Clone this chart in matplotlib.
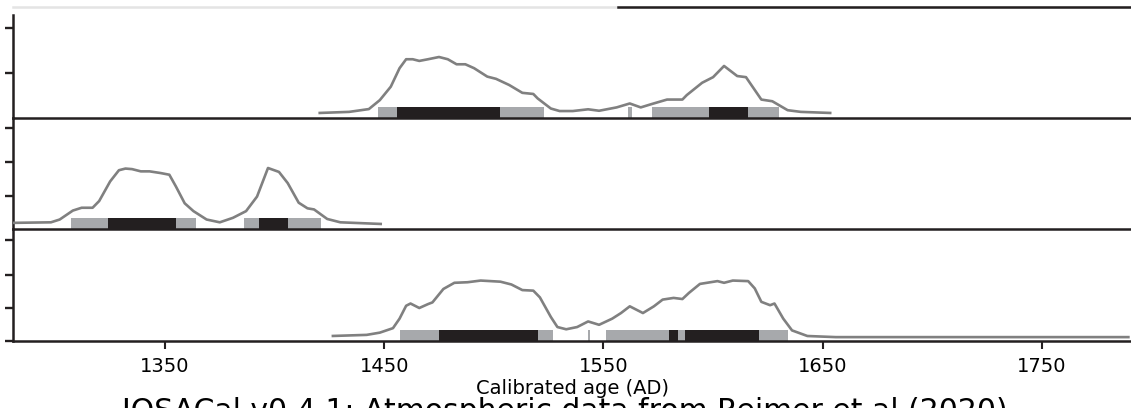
import matplotlib
matplotlib.use("Agg")
import matplotlib.pyplot as plt

# Calibrated probability curves (relative probability, peak = 1)
top_years = [1420, 1434, 1443, 1448, 1453, 1457, 1460, 1463, 1466, 1470, 1475, 1479,
             1483, 1487, 1491, 1497, 1501, 1507, 1513, 1518, 1520, 1526, 1530, 1536,
             1543, 1548, 1556, 1562, 1567, 1572, 1579, 1586, 1588, 1595, 1600, 1605,
             1611, 1615, 1622, 1627, 1634, 1640, 1654]
top_dens = [0.0, 0.02, 0.07, 0.23, 0.47, 0.80, 0.96, 0.96, 0.93, 0.96, 1.0, 0.96,
            0.87, 0.87, 0.80, 0.65, 0.61, 0.50, 0.36, 0.34, 0.26, 0.08, 0.035, 0.035,
            0.066, 0.04, 0.10, 0.17, 0.10, 0.16, 0.24, 0.24, 0.32, 0.54, 0.64, 0.84,
            0.66, 0.64, 0.24, 0.21, 0.05, 0.02, 0.0]

mid_years = [1280, 1298, 1302, 1308, 1312, 1317, 1320, 1325, 1329, 1332, 1335, 1339,
             1343, 1348, 1352, 1355, 1359, 1363, 1369, 1375, 1381, 1387, 1392, 1397,
             1402, 1406, 1411, 1415, 1418, 1424, 1430, 1449]
mid_dens = [0.02, 0.03, 0.08, 0.24, 0.29, 0.29, 0.41, 0.76, 0.96, 0.99, 0.98, 0.94,
            0.94, 0.91, 0.88, 0.67, 0.37, 0.23, 0.08, 0.03, 0.11, 0.23, 0.49, 1.0,
            0.93, 0.73, 0.38, 0.28, 0.26, 0.09, 0.03, 0.0]

bot_years = [1426, 1442, 1448, 1454, 1457, 1460, 1462, 1466, 1470, 1472, 1477, 1482,
             1488, 1494, 1503, 1508, 1513, 1518, 1521, 1526, 1529, 1533, 1538, 1543,
             1548, 1554, 1558, 1562, 1568, 1573, 1577, 1582, 1586, 1589, 1594, 1602,
             1605, 1609, 1616, 1619, 1622, 1626, 1628, 1632, 1636, 1643, 1656, 1790]
bot_dens = [0.0, 0.02, 0.06, 0.14, 0.31, 0.54, 0.58, 0.50, 0.57, 0.60, 0.84, 0.95,
            0.96, 0.99, 0.97, 0.92, 0.82, 0.81, 0.69, 0.34, 0.16, 0.12, 0.16, 0.26,
            0.20, 0.31, 0.41, 0.53, 0.41, 0.53, 0.65, 0.68, 0.66, 0.77, 0.93, 0.98,
            0.95, 0.99, 0.98, 0.85, 0.61, 0.55, 0.58, 0.31, 0.10, 0.0, -0.02, -0.02]

# HPD intervals (start, end) in years AD
top_95 = [(1447, 1523), (1561, 1563), (1572, 1630)]
top_68 = [(1456, 1503), (1598, 1616)]
mid_95 = [(1307, 1364), (1386, 1421)]
mid_68 = [(1324, 1355), (1393, 1406)]
bot_95 = [(1457, 1527), (1543, 1544), (1551, 1634)]
bot_68 = [(1475, 1520), (1580, 1584), (1587, 1621)]

x_ticks = [1350, 1450, 1550, 1650, 1750]

CURVE = "#808080"
GRAY = "#a7a9ac"
BLACK = "#231f20"

W, H = 1131, 408
fig = plt.figure(figsize=(W / 100, H / 100), dpi=100)

# panel pixel extents (top, bottom) and y tick heights in pixels above baseline
panels = [
    (7, 118, top_years, top_dens, top_95, top_68, [45, 90]),
    (118, 229, mid_years, mid_dens, mid_95, mid_68, [33, 67, 101]),
    (229, 341, bot_years, bot_dens, bot_95, bot_68, [0, 33, 66, 101]),
]

base_px, peak_px, bar_px = 5.0, 56.0, 11.0
axes = []
for top_px, bot_px, yrs, dens, r95, r68, ytk in panels:
    h_px = bot_px - top_px
    ax = fig.add_axes([13 / W, (H - bot_px) / H, 1 - 13 / W, h_px / H])
    ax.set_xlim(1280.7, 1790.6)
    ax.set_ylim(-base_px / peak_px, (h_px - base_px) / peak_px)
    ax.plot(yrs, dens, color=CURVE, lw=1.9, zorder=3, solid_capstyle="butt")
    trans = ax.get_xaxis_transform()
    frac = bar_px / h_px
    ax.broken_barh([(a, b - a) for a, b in r95], (0, frac), facecolors=GRAY,
                   transform=trans, zorder=2)
    ax.broken_barh([(a, b - a) for a, b in r68], (0, frac), facecolors=BLACK,
                   transform=trans, zorder=2)
    ax.set_yticks([(t - base_px) / peak_px for t in ytk])
    ax.set_yticklabels([])
    ax.tick_params(axis="y", direction="out", length=5.5, width=1.7, color=BLACK)
    ax.spines["right"].set_visible(False)
    ax.spines["top"].set_visible(False)
    for s in ("left", "bottom"):
        ax.spines[s].set_color(BLACK)
        ax.spines[s].set_linewidth(1.8)
    ax.patch.set_alpha(0)
    axes.append(ax)

# top edge of the first panel
top_ax = axes[0]
top_ax.spines["top"].set_visible(True)
top_ax.spines["top"].set_color("#e4e4e4")
top_ax.spines["top"].set_linewidth(1.8)
top_ax.spines["left"].set_bounds(top_ax.get_ylim()[0], top_ax.get_ylim()[1] - 8 / peak_px)
top_ax.axhline(top_ax.get_ylim()[1], xmin=(618 - 13) / (W - 13), xmax=1,
               color=BLACK, lw=1.8, clip_on=False, zorder=5)

for ax in axes[:-1]:
    ax.set_xticks([])

bot = axes[-1]
bot.set_xticks(x_ticks)
bot.set_xticklabels([str(t) for t in x_ticks])
bot.tick_params(axis="x", direction="out", length=5.8, width=1.5, color=BLACK,
                labelsize=14, pad=5.5)
bot.set_xlabel("Calibrated age (AD)", fontsize=14, labelpad=2.5)

fig.text(122 / W, 1 - 397 / H, "IOSACal v0.4.1; Atmospheric data from Reimer et al (2020)",
         fontsize=21.5, va="top", ha="left")

fig.savefig("out.png", dpi=100)
